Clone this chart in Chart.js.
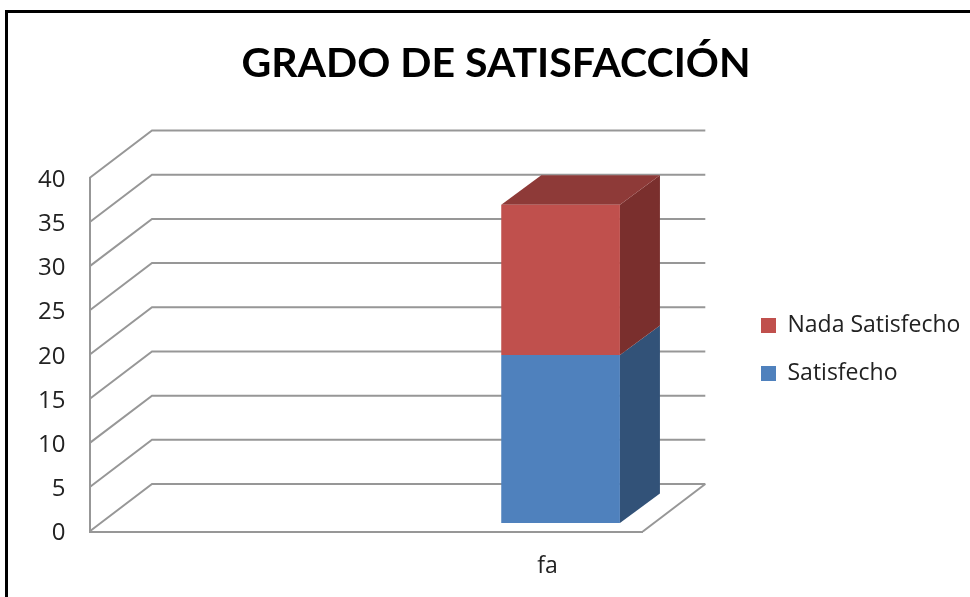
<!DOCTYPE html>
<html><head><meta charset="utf-8">
<style>
html,body{margin:0;padding:0;background:#fff;overflow:hidden;width:970px;height:597px}
#frame{position:absolute;left:5px;top:10px;width:990px;height:620px;border-left:3px solid #000;border-top:3px solid #000}
#wrap{position:absolute;left:0;top:0;width:970px;height:597px}
</style>
<script src="https://cdn.jsdelivr.net/npm/chart.js@4"></script>
</head><body>
<div id="frame"></div>
<div id="wrap"><canvas id="c" width="970" height="597"></canvas></div>
<script>
const categories = ['', '', 'fa'];
const satisfecho = [null, null, 19];
const nadaSatisfecho = [null, null, 17];
const titleText = 'GRADO DE SATISFACCIÓN';
const GRID = '#979797';
const TEXT = '#222222';
const wall = {dx: 62.5, dy: -47.5};
const barShift = {dx: 10, dy: -8.5};
const barDepth = {dx: 40, dy: -29.5};
const target = {left: 89.5, right: 641.5, top: 178, bottom: 531.5};
const sideColors = ['#325278', '#7A2F2D'];
const topColors = ['#3A5F8C', '#8E3A38'];

const depthPlugin = {
  id: 'depth',
  afterLayout(chart) {
    const tb = chart.titleBlock;
    const h = tb.bottom - tb.top;
    tb.left = 22;
    tb.right = 970;
    tb.top = 63.5 - h / 2;
    tb.bottom = tb.top + h;
    const lg = chart.legend;
    lg.left = 761 - chart.options.plugins.legend.labels.padding;
    lg.right = 970;
    lg.top = 289;
    lg.bottom = 597;
  },
  beforeDatasetsDraw(chart) {
    const {ctx, scales: {x, y}} = chart;
    ctx.save();
    ctx.strokeStyle = GRID;
    ctx.lineWidth = 2;
    y.ticks.forEach(t => {
      const py = y.getPixelForValue(t.value);
      ctx.beginPath();
      ctx.moveTo(x.left, py);
      ctx.lineTo(x.left + wall.dx, py + wall.dy);
      ctx.lineTo(x.right + wall.dx, py + wall.dy);
      ctx.stroke();
    });
    const p0 = y.getPixelForValue(0);
    ctx.beginPath();
    ctx.moveTo(x.right, p0);
    ctx.lineTo(x.right + wall.dx, p0 + wall.dy);
    ctx.stroke();
    ctx.restore();

    ctx.save();
    ctx.translate(barShift.dx, barShift.dy);
    chart.data.datasets.forEach((ds, i) => {
      chart.getDatasetMeta(i).data.forEach((bar, k) => {
        if (ds.data[k] == null) return;
        const r = bar.x + bar.width / 2, l = bar.x - bar.width / 2;
        ctx.fillStyle = sideColors[i];
        ctx.beginPath();
        ctx.moveTo(r, bar.base);
        ctx.lineTo(r + barDepth.dx, bar.base + barDepth.dy);
        ctx.lineTo(r + barDepth.dx, bar.y + barDepth.dy);
        ctx.lineTo(r, bar.y);
        ctx.closePath();
        ctx.fill();
        if (i === chart.data.datasets.length - 1) {
          ctx.fillStyle = topColors[i];
          ctx.beginPath();
          ctx.moveTo(l, bar.y);
          ctx.lineTo(l + barDepth.dx, bar.y + barDepth.dy);
          ctx.lineTo(r + barDepth.dx, bar.y + barDepth.dy);
          ctx.lineTo(r, bar.y);
          ctx.closePath();
          ctx.fill();
        }
      });
    });
  },
  afterDatasetsDraw(chart) {
    chart.ctx.restore();
  }
};

const chart = new Chart(document.getElementById('c'), {
  type: 'bar',
  data: {
    labels: categories,
    datasets: [
      {label: 'Satisfecho', data: satisfecho, backgroundColor: '#4F81BD', borderWidth: 0},
      {label: 'Nada Satisfecho', data: nadaSatisfecho, backgroundColor: '#C0504D', borderWidth: 0}
    ]
  },
  options: {
    responsive: false,
    animation: false,
    events: [],
    layout: {padding: {left: 0, right: 0, top: 0, bottom: 0}},
    datasets: {bar: {barPercentage: 0.6435, categoryPercentage: 1}},
    plugins: {
      tooltip: {enabled: false},
      title: {
        display: true, text: titleText, color: '#000',
        font: {family: 'Lato', weight: 'bold', size: 41},
        padding: {top: 0, bottom: 0}
      },
      legend: {
        display: true, position: 'right', reverse: true, align: 'start',
        labels: {
          boxWidth: 15, boxHeight: 15, padding: 25, color: TEXT,
          font: {family: '"Open Sans"', size: 23}
        }
      }
    },
    scales: {
      x: {
        stacked: true,
        grid: {display: false},
        border: {display: true, color: GRID, width: 2},
        ticks: {color: TEXT, padding: 13, labelOffset: -3, maxRotation: 0, autoSkip: false,
                font: {family: '"Open Sans"', size: 23}}
      },
      y: {
        stacked: true, min: 0, max: 40,
        grid: {display: false},
        border: {display: true, color: GRID, width: 2},
        ticks: {stepSize: 5, color: TEXT, padding: 16, labelOffset: 2,
                font: {family: '"Open Sans"', size: 24}}
      }
    }
  },
  plugins: [depthPlugin]
});

for (let i = 0; i < 3; i++) {
  const a = chart.chartArea, p = chart.options.layout.padding;
  p.left += target.left - a.left;
  p.right += a.right - target.right;
  p.top += target.top - a.top;
  p.bottom += a.bottom - target.bottom;
  chart.update('none');
}
</script>
</body></html>
